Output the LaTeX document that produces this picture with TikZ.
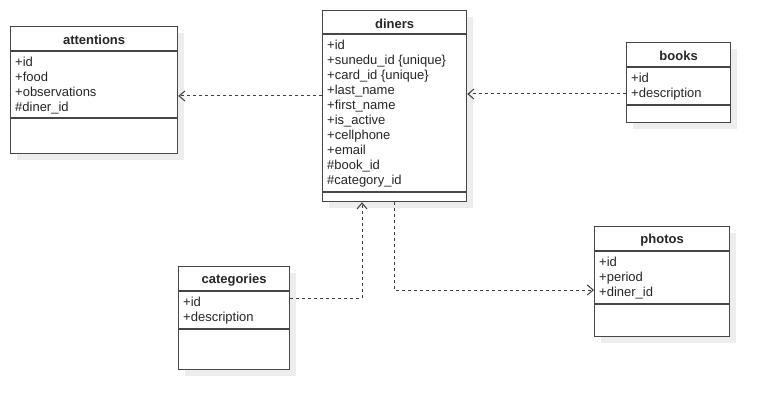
\documentclass[tikz,border=0pt]{standalone}
\usepackage{fontspec}
\setmainfont{Liberation Sans}
\usepackage{tikz}
\usetikzlibrary{arrows.meta}
\usetikzlibrary{shadows}

\tikzset{
  classbox/.style={draw=black!72, line width=1.2pt, fill=white, anchor=north west,
    drop shadow={shadow xshift=6pt, shadow yshift=-6pt, fill=black!7, opacity=1}},
  classline/.style={draw=black!72, line width=1.2pt},
  classtitle/.style={inner sep=0pt, font=\fontsize{13}{15}\selectfont\bfseries, text=black!85},
  classfields/.style={inner sep=0pt, anchor=north west, align=left,
    font=\fontsize{13}{15}\selectfont, text=black!85},
  dep/.style={draw=black!75, line width=1pt, dash pattern=on 3pt off 3pt,
    -{Straight Barb[length=6pt,width=10pt]}}
}

% name, x, y, width, height, header, fields height, title, fields
\newcommand{\umlclass}[9]{%
  \node[classbox, minimum width=#4, minimum height=#5] (#1) at (#2,#3) {};
  \node[classtitle] (#1-title) at ([yshift=-#6/2-1.5]#1.north) {#8};
  \draw[classline] ([yshift=-#6]#1.north west) -- ([yshift=-#6]#1.north east);
  \draw[classline] ([yshift=-#6-#7]#1.north west) -- ([yshift=-#6-#7]#1.north east);
  \node[classfields] (#1-fields) at ([xshift=5,yshift=-#6-6]#1.north west) {#9};
}

\begin{document}
\begin{tikzpicture}[x=1pt,y=-1pt]
	\useasboundingbox (0,0) rectangle (770,409);

	\umlclass{att}{10}{26}{167}{127}{25}{67}{attentions}
	{+id\\+food\\+observations\\\#diner\_id}
	\umlclass{din}{322}{10}{144}{191}{24}{158}{diners}
	{+id\\+sunedu\_id \{unique\}\\+card\_id \{unique\}\\+last\_name\\+first\_name\\
	+is\_active\\+cellphone\\+email\\\#book\_id\\\#category\_id}
	\umlclass{boo}{626}{42}{104}{80}{25}{38}{books}
	{+id\\+description}
	\umlclass{cat}{178}{266}{111}{103}{25}{38}{categories}
	{+id\\+description}
	\umlclass{pho}{594}{226}{135}{110}{25}{53}{photos}
	{+id\\+period\\+diner\_id}

	\draw[dep] ([yshift=-86]din.north west) coordinate (d1) -- (d1 -| att.east);
	\draw[dep] ([yshift=-52]boo.north west) coordinate (b1) -- (b1 -| din.east);
	\draw[dep] ([yshift=-32]cat.north east) -| ([xshift=40]din.south west);
	\draw[dep] ([xshift=72]din.south west) |- ([yshift=-64]pho.north west);
\end{tikzpicture}
\end{document}
